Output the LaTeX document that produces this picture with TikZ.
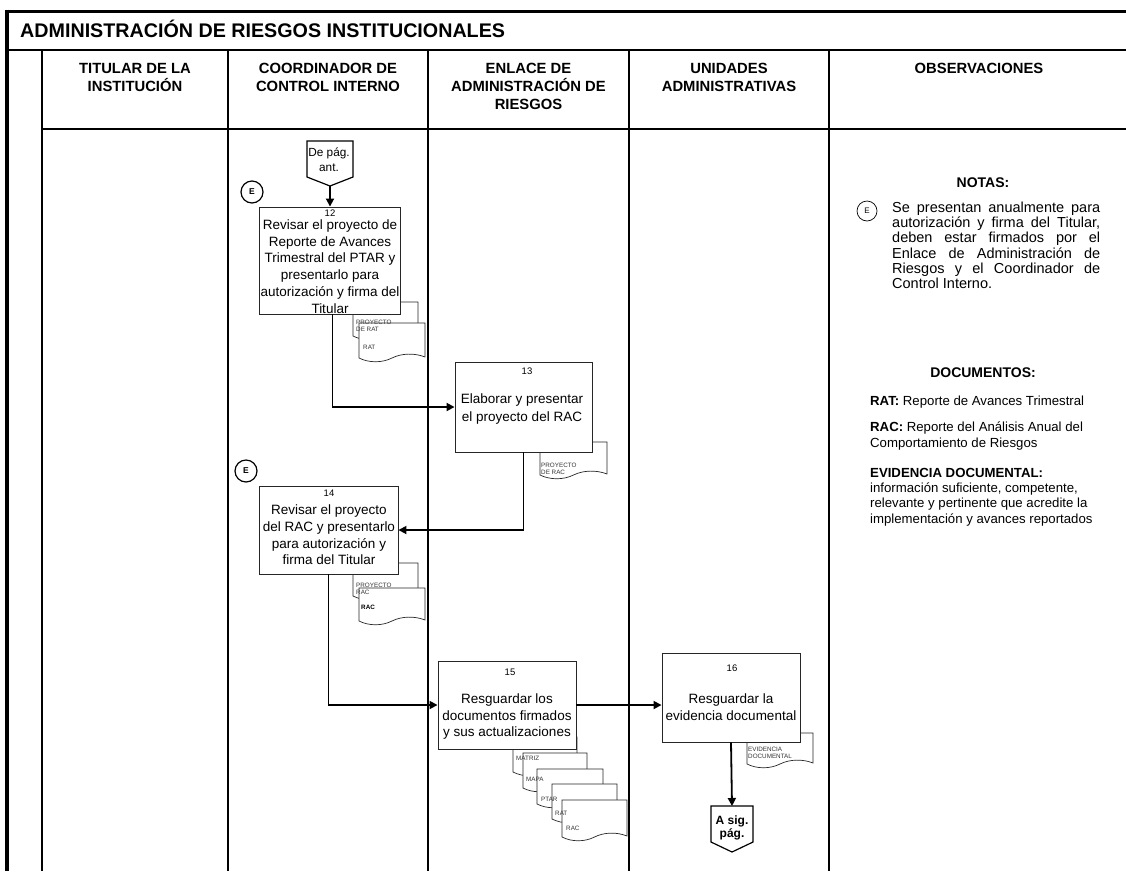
\documentclass[tikz,border=0pt]{standalone}
\usepackage{fontspec}
\setmainfont{Liberation Sans}
\usetikzlibrary{arrows.meta}
\hyphenpenalty=10000
\exhyphenpenalty=10000
\tikzset{
 frame/.style={line width=3pt},
 lane/.style={line width=1.8pt},
 box/.style={draw=black!85, line width=0.9pt, fill=white, inner sep=0pt},
 boxtxt/.style={align=center, inner sep=0pt, font=\fontsize{13.5}{16.7}\selectfont},
 num/.style={inner sep=0pt, font=\fontsize{9.5}{11}\selectfont},
 conn/.style={line width=1.8pt, -{Triangle[length=8pt,width=8pt]}},
 docst/.style={draw=black!85, line width=0.7pt, fill=white},
 doclbl/.style={anchor=west, inner sep=0pt, font=\fontsize{6.3}{7.5}\selectfont, text=black!80},
 hdr/.style={align=center, inner sep=0pt, font=\bfseries\fontsize{14.8}{18}\selectfont},
 circE/.style={circle, draw, line width=1.2pt, minimum size=22pt, inner sep=0pt, font=\bfseries\fontsize{8.5}{9}\selectfont},
 offp/.style={draw, line width=1.2pt, fill=white},
 obs/.style={inner sep=0pt, anchor=north west, align=left, font=\fontsize{13.2}{15.2}\selectfont},
}
\newcommand\flowdoc[4]{\filldraw[docst] ({#1},{#2}) -- ({#3},{#2}) -- ({#3},{#4-5}) .. controls ({#3-0.15*(#3-#1)},{#4-9}) and ({#3-0.35*(#3-#1)},{#4-9}) .. ({(#1+#3)/2},{#4-4}) .. controls ({#1+0.35*(#3-#1)},{#4+1}) and ({#1+0.15*(#3-#1)},{#4+1}) .. ({#1},{#4-4}) -- cycle;}
\begin{document}
\begin{tikzpicture}[x=1pt,y=-1pt]
\useasboundingbox (0,0) rectangle (1126,871);
% frame
\draw[frame] (5,11) -- (1126,11);
\draw[line width=3.8pt] (7,9.5) -- (7,871);
\draw[line width=2.5pt] (7,50) -- (1126,50);
\draw[lane] (42,129) -- (1126,129);
\foreach \x in {42,228,428,629,829} \draw[lane] (\x,50) -- (\x,871);
% title and headers
\node[anchor=base west, inner sep=0pt, font=\bfseries\fontsize{19.7}{22}\selectfont] (title) at (20,37) {ADMINISTRACIÓN DE RIESGOS INSTITUCIONALES};
\node[hdr] (h1) at (135,77) {TITULAR DE LA\\INSTITUCIÓN};
\node[hdr] (h2) at (328,77) {COORDINADOR DE\\CONTROL INTERNO};
\node[hdr] (h3) at (528.5,86) {ENLACE DE\\ADMINISTRACIÓN DE\\RIESGOS};
\node[hdr] (h4) at (729,77) {UNIDADES\\ADMINISTRATIVAS};
\node[hdr] (h5) at (979,68) {OBSERVACIONES};
% documents
\flowdoc{353}{302}{418}{340}
\flowdoc{359}{323}{425}{362}
\node[doclbl] (l12a) at (356,322) {PROYECTO};
\node[doclbl] (l12b) at (356,329.5) {DE RAT};
\node[doclbl] (l12c) at (363,347) {RAT};
\flowdoc{540}{442}{607}{479}
\node[doclbl] (l13a) at (541,465) {PROYECTO};
\node[doclbl] (l13b) at (541,472.5) {DE RAC};
\flowdoc{353}{563}{418}{600}
\flowdoc{359}{588}{425}{625}
\node[doclbl] (l14a) at (356,585) {PROYECTO};
\node[doclbl] (l14b) at (356,592.5) {RAC};
\node[doclbl, font=\bfseries\fontsize{6.3}{7.5}\selectfont, text=black] (l14c) at (361,607) {RAC};
\flowdoc{513}{737}{577}{776}
\flowdoc{523}{753}{587}{792}
\flowdoc{537}{769}{603}{808}
\flowdoc{552}{784}{617}{823}
\flowdoc{562}{800}{627}{841}
\node[doclbl] (l15a) at (516,758) {MATRIZ};
\node[doclbl] (l15b) at (526,779) {MAPA};
\node[doclbl] (l15c) at (541,799) {PTAR};
\node[doclbl] (l15d) at (555,813) {RAT};
\node[doclbl] (l15e) at (566,828) {RAC};
\flowdoc{747}{733}{813}{768}
\node[doclbl] (l16a) at (748,749) {EVIDENCIA};
\node[doclbl] (l16b) at (748,756.5) {DOCUMENTAL};
% off-page connectors
\draw[offp] (307,141) -- (353,141) -- (353,177) -- (330,186) -- (307,177) -- cycle;
\coordinate (dpTip) at (330,186);
\node[inner sep=0pt, align=center, font=\fontsize{11.8}{15}\selectfont] (dpTxt) at (329,160) {De pág.\\ant.};
\draw[offp] (711,806) -- (753,806) -- (753,842) -- (732,852) -- (711,842) -- cycle;
\coordinate (asTop) at (732,806);
\node[inner sep=0pt, align=center, font=\bfseries\fontsize{12}{13.5}\selectfont] (asTxt) at (732,828) {A sig.\\pág.};
% boxes
\node[box, minimum width=141pt, minimum height=107pt] (b12) at (329.5,260.5) {};
\node[box, minimum width=137pt, minimum height=90pt] (b13) at (523.5,407) {};
\node[box, minimum width=139pt, minimum height=88pt] (b14) at (328.5,530) {};
\node[box, minimum width=138pt, minimum height=88pt] (b15) at (507,705) {};
\node[box, minimum width=138pt, minimum height=89pt] (b16) at (731,697.5) {};
\node[num] (n12) at (330,213) {12};
\node[num] (n13) at (527,371) {13};
\node[num] (n14) at (329,493) {14};
\node[num] (n15) at (510,672) {15};
\node[num] (n16) at (732,668) {16};
\node[boxtxt] (t12) at (330,266.5) {Revisar el proyecto de\\Reporte de Avances\\Trimestral del PTAR y\\presentarlo para\\autorización y firma del\\Titular};
\node[boxtxt, font=\fontsize{13.5}{17.5}\selectfont] (t13) at (522,409) {Elaborar y presentar\\el proyecto del RAC};
\node[boxtxt] (t14) at (329,535) {Revisar el proyecto\\del RAC y presentarlo\\para autorización y\\firma del Titular};
\node[boxtxt] (t15) at (507,716.5) {Resguardar los\\documentos firmados\\y sus actualizaciones};
\node[boxtxt] (t16) at (731,707) {Resguardar la\\evidencia documental};
% connectors
\draw[conn] (dpTip) -- (dpTip |- b12.north);
\draw[conn] ([xshift=3pt]b12.south) |- (b13.west);
\draw[conn] (b13.south) |- (b14.east);
\draw[conn] (b14.south) |- (b15.west);
\draw[conn] (b15.east) -- (b15.east -| b16.west);
\draw[conn] (b16.south) -- (asTop);
% E marks
\node[circE] (eA) at (252,192) {E};
\node[circE] (eB) at (246,471) {E};
% observations
\node[inner sep=0pt, font=\bfseries\fontsize{14}{16}\selectfont] (notas) at (983,183) {NOTAS:};
\node[circle, draw, line width=0.7pt, minimum size=20pt, inner sep=0pt, font=\fontsize{8}{9}\selectfont] (eN) at (867,211) {E};
\node[inner sep=0pt, anchor=north west, text width=208pt, align=justify, font=\fontsize{14.5}{15.3}\selectfont] (notaTxt) at (892,201.5) {Se presentan anualmente para\linebreak autorización y firma del Titular,\linebreak deben estar firmados por el\linebreak Enlace de Administración de\linebreak Riesgos y el Coordinador de\linebreak Control Interno.};
\node[inner sep=0pt, font=\bfseries\fontsize{14}{16}\selectfont] (docs) at (983,373) {DOCUMENTOS:};
\node[obs] (oRat) at (870,395.5) {\textbf{RAT:} Reporte de Avances Trimestral};
\node[obs] (oRac) at (870,422) {\textbf{RAC:} Reporte del Análisis Anual del\\Comportamiento de Riesgos};
\node[obs] (oEv) at (870,468) {\textbf{EVIDENCIA DOCUMENTAL:}\\información suficiente, competente,\\relevante y pertinente que acredite la\\implementación y avances reportados};
\end{tikzpicture}
\end{document}
